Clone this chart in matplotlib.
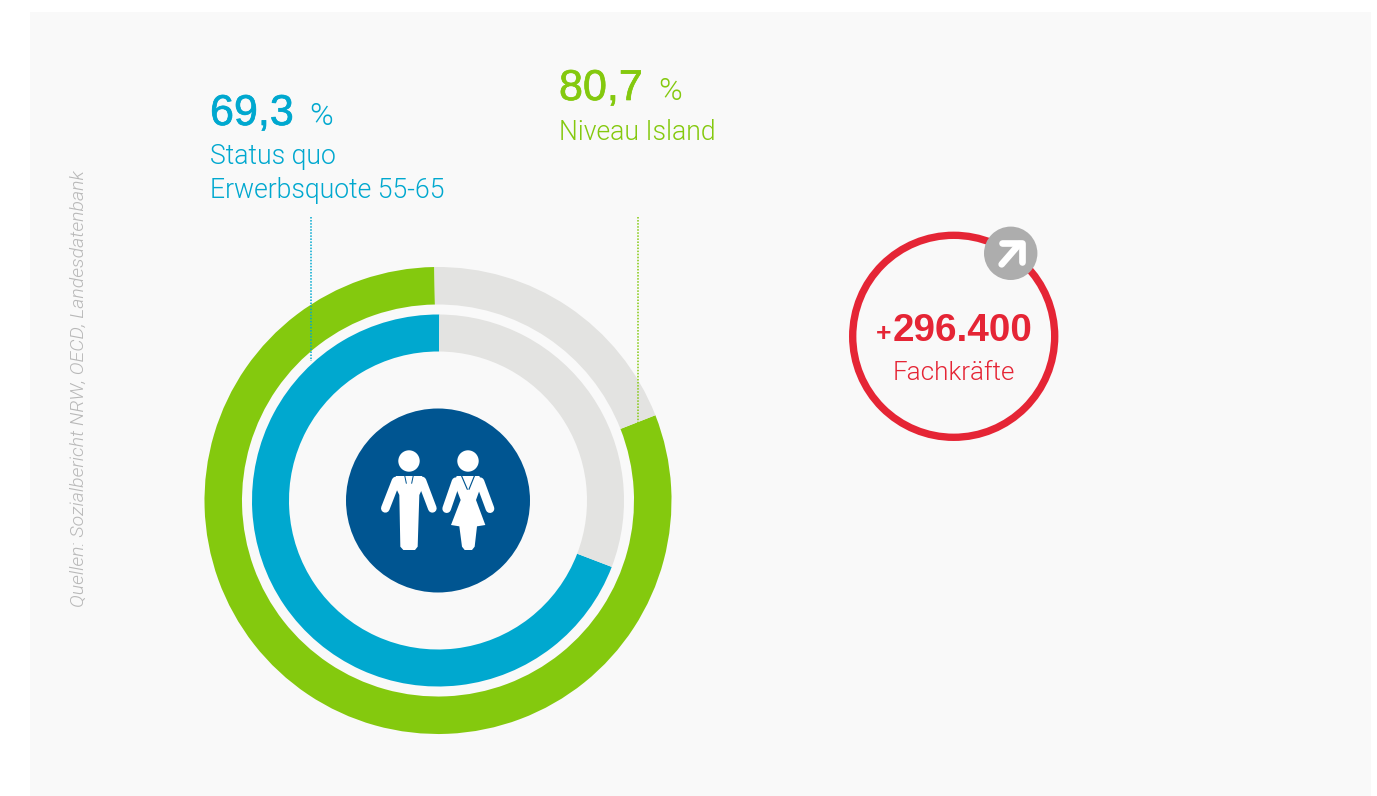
import matplotlib
matplotlib.use("Agg")
import matplotlib.pyplot as plt
import matplotlib.patheffects as pe
from matplotlib.patches import Circle, Rectangle, Polygon

W, H = 1377, 796
outer_values = [80.7, 19.3]
inner_values = [69.3, 30.7]
outer_label = ["80,7", "%", "Niveau Island"]
inner_label = ["69,3", "%", "Status quo", "Erwerbsquote 55-65"]
big_number = "296.400"
big_label = "Fachkräfte"
source = "Quellen: Sozialbericht NRW, OECD, Landesdatenbank"

GREEN, BLUE, GREY, NAVY, RED, BG = "#84c90e", "#00a8cf", "#e3e3e1", "#005591", "#e52535", "#f9f9f9"
LIGHT = "Roboto"
HEAD = "Liberation Sans"

fig = plt.figure(figsize=(W / 100, H / 100), dpi=100, facecolor="white")
ax = fig.add_axes([0, 0, 1, 1])

def Y(py):
    return H - py

def Z1(x, y):
    return (340 + x / 3, Y(400 + y / 3))

def Z2(x, y):
    return (840 + x / 3, Y(220 + y / 3))

ax.add_patch(Rectangle((30, 0), 1341, H - 12, fc=BG, ec="none", zorder=0))

cx, cy = 438, Y(500.5)
ax.pie(outer_values, colors=[GREEN, GREY], startangle=90.9, counterclock=True,
       center=(cx, cy), radius=233.5, wedgeprops=dict(width=37.5, linewidth=0), frame=True)
ax.pie(inner_values, colors=[BLUE, GREY], startangle=89.6, counterclock=True,
       center=(cx, cy), radius=186, wedgeprops=dict(width=37, linewidth=0), frame=True)
ax.set_xlim(0, W)
ax.set_ylim(0, H)
ax.set_aspect("equal")
ax.axis("off")

# dotted leader lines
ax.plot([311, 311], [Y(217), Y(361)], color=BLUE, lw=1.1, ls=(0, (1, 1)), zorder=5)
ax.plot([638, 638], [Y(217), Y(426)], color=GREEN, lw=1.1, ls=(0, (1, 1)), zorder=5)

# centre icon
ax.add_patch(Circle((cx, cy), 92, fc=NAVY, ec="none", zorder=6))
WHT = "white"
def poly(pts, color=WHT, z=7):
    ax.add_patch(Polygon([Z1(*p) for p in pts], closed=True, fc=color, ec="none", zorder=z))
def stroke(pts, width, color=WHT, z=7, cap="round", fn=Z1):
    xy = [fn(*p) for p in pts]
    ax.plot([p[0] for p in xy], [p[1] for p in xy], color=color, lw=width * 0.72 / 3,
            solid_capstyle=cap, solid_joinstyle="round", zorder=z)

for hx in (207, 384):
    ax.add_patch(Circle(Z1(hx, 183), 10.7, fc=WHT, ec="none", zorder=7))

# man
stroke([(168, 243), (136, 325)], 26)
stroke([(246, 243), (277, 325)], 26)
poly([(168, 228), (246, 228), (254, 250), (238, 285), (233, 440), (225, 450), (190, 450),
      (181, 440), (178, 285), (161, 250)])
stroke([(194, 226), (199, 250)], 3, NAVY, 8)
stroke([(220, 226), (215, 250)], 3, NAVY, 8)

# woman
stroke([(348, 245), (320, 326)], 26)
stroke([(420, 245), (450, 326)], 26)
poly([(350, 228), (418, 228), (426, 250), (408, 300), (436, 375), (411, 379), (404, 440),
      (396, 450), (374, 450), (366, 440), (358, 379), (333, 375), (362, 300), (343, 250)])
stroke([(364, 226), (382, 268)], 3.5, NAVY, 8)
stroke([(404, 226), (387, 268)], 3.5, NAVY, 8)

# red badge
ax.add_patch(Circle((953.7, Y(336.3)), 101, fc="none", ec=RED, lw=5.3, zorder=3))
ax.add_patch(Circle((1010.7, Y(253.3)), 26.7, fc="#adadad", ec="none", zorder=4))
stroke([(485, 133), (538, 72)], 20, WHT, 5, fn=Z2)
stroke([(485, 70), (545, 70), (545, 125)], 20, WHT, 5, fn=Z2)

# texts
def T(x, y, s, **kw):
    return ax.text(x, Y(y), s, zorder=9, va="baseline", **kw)

semi = [pe.withStroke(linewidth=0.5, foreground=BLUE)]
semi_g = [pe.withStroke(linewidth=0.5, foreground=GREEN)]
T(210, 125, inner_label[0], color=BLUE, family=HEAD, fontsize=31, path_effects=semi)
T(309, 125, inner_label[1], color=BLUE, family=LIGHT, weight=300, fontsize=23)
T(210, 164, inner_label[2], color=BLUE, family=LIGHT, weight=300, fontsize=19.2)
T(210, 198, inner_label[3], color=BLUE, family=LIGHT, weight=300, fontsize=19.2)
T(559, 100, outer_label[0], color=GREEN, family=HEAD, fontsize=31, path_effects=semi_g)
T(658, 100, outer_label[1], color=GREEN, family=LIGHT, weight=300, fontsize=23)
T(559, 140, outer_label[2], color=GREEN, family=LIGHT, weight=300, fontsize=19.2)
T(876, 341, "+", color=RED, family=HEAD, weight="bold", fontsize=19)
T(893, 341, big_number, color=RED, family=HEAD, weight="bold", fontsize=27.8)
T(954, 380, big_label, color=RED, family=LIGHT, weight=300, fontsize=18.7, ha="center")
ax.text(79, Y(607), source, rotation=90, ha="center", va="bottom", color="#b8b8b8",
        family=LIGHT, style="italic", weight=300, fontsize=14, zorder=9)

fig.savefig("out.png", dpi=100, facecolor="white")
